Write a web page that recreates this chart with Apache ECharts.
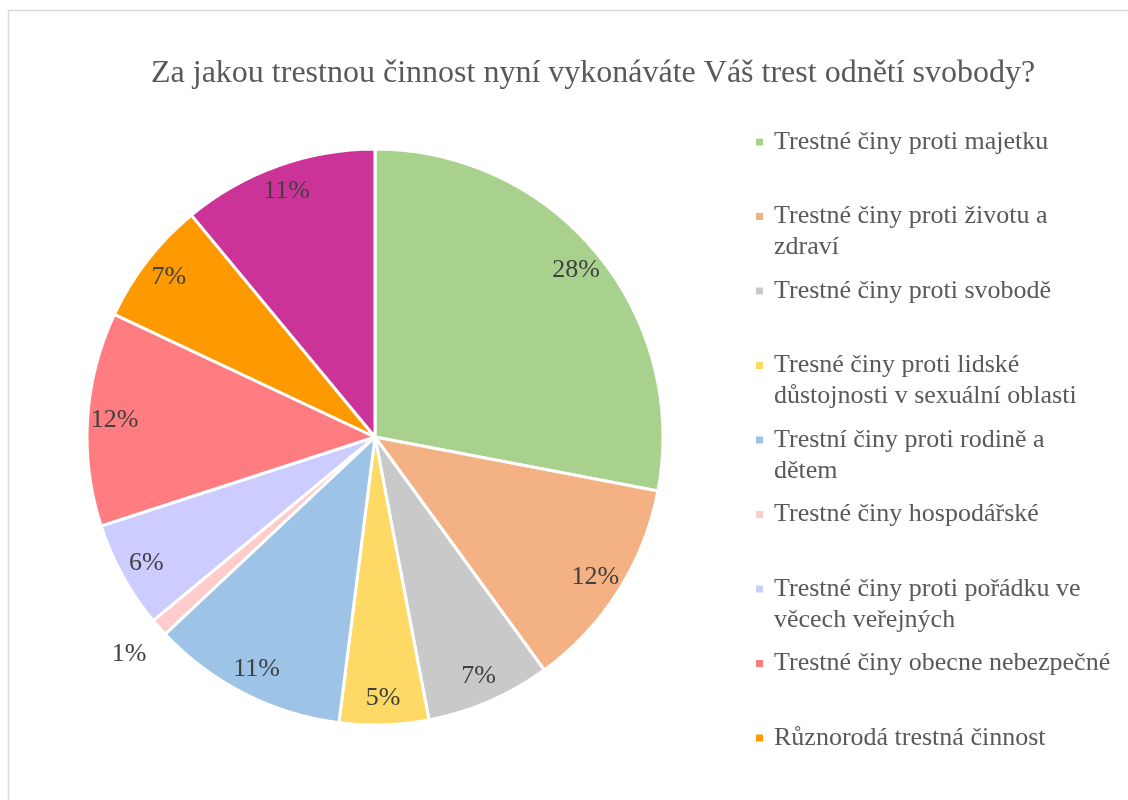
<!DOCTYPE html>
<html>
<head>
<meta charset="utf-8">
<script src="https://cdn.jsdelivr.net/npm/echarts@6/dist/echarts.min.js"></script>
<style>
  html, body { margin: 0; padding: 0; background: #fff; }
  #chart { width: 1128px; height: 800px; }
</style>
</head>
<body>
<div id="chart"></div>
<script>
// data
const titleText = 'Za jakou trestnou činnost nyní vykonáváte Váš trest odnětí svobody?'
const categories = [
  'Trestné činy proti majetku',
  'Trestné činy proti životu a zdraví',
  'Trestné činy proti svobodě',
  'Tresné činy proti lidské důstojnosti v sexuální oblasti',
  'Trestní činy proti rodině a dětem',
  'Trestné činy hospodářské',
  'Trestné činy proti pořádku ve věcech veřejných',
  'Trestné činy obecne nebezpečné',
  'Různorodá trestná činnost',
  'Ostatní'
]
const values = [28, 12, 7, 5, 11, 1, 6, 12, 7, 11]
const colors = ['#A9D18E', '#F4B183', '#C9C9C9', '#FFD966', '#9DC3E6',
  '#FFCCCC', '#CCCCFF', '#FF7C80', '#FF9900', '#CC3399']
// legend shows only the first 9 (last one is cut off in the original)
const legendNames = categories.slice(0, 9)
// how the long names wrap in the legend
const legendWrap = {
  'Trestné činy proti životu a zdraví': 'Trestné činy proti životu a\nzdraví',
  'Tresné činy proti lidské důstojnosti v sexuální oblasti': 'Tresné činy proti lidské\ndůstojnosti v sexuální oblasti',
  'Trestní činy proti rodině a dětem': 'Trestní činy proti rodině a\ndětem',
  'Trestné činy proti pořádku ve věcech veřejných': 'Trestné činy proti pořádku ve\nvěcech veřejných'
}
// slice whose label sits outside the pie
const outsideIdx = 5

const serif = '"Liberation Serif", "DejaVu Serif", serif'
const LH = 31
const center = [375, 437]

const chart = echarts.init(document.getElementById('chart'))

const pieData = categories.map((name, i) => ({ name, value: values[i] }))

const labelStyle = {
  position: 'inside',
  formatter: '{c}%',
  fontFamily: serif,
  fontSize: 26,
  color: '#404040'
}

const option = {
  color: colors,
  animation: false,
  title: {
    text: titleText,
    left: 146,
    top: 53,
    textStyle: { fontFamily: serif, fontWeight: 'normal', fontSize: 32, color: '#595959' }
  },
  legend: {
    orient: 'vertical',
    left: 754,
    top: 142 - LH * 1.5,
    padding: 0,
    itemGap: 74.5 - LH * 3,
    itemWidth: 9,
    itemHeight: 9,
    icon: 'rect',
    selectedMode: false,
    textStyle: { fontFamily: serif, fontSize: 26, color: '#595959', lineHeight: LH },
    // an empty first line keeps the marker level with the first text line
    formatter: name => legendWrap[name] ? '\n' + legendWrap[name] : name,
    data: legendNames.map(name => ({
      name,
      textStyle: { padding: legendWrap[name] ? [0, 0, 0, 5] : [LH, 0, LH, 5] }
    }))
  },
  graphic: [{
    type: 'rect',
    silent: true,
    shape: { x: 8.5, y: 10.5, width: 1400, height: 1000 },
    style: { fill: 'none', stroke: '#D9D9D9', lineWidth: 1.5 }
  }],
  series: [
    {
      type: 'pie',
      center,
      radius: [0, 288],
      startAngle: 90,
      clockwise: true,
      silent: true,
      label: { show: false },
      labelLine: { show: false },
      itemStyle: { borderColor: '#fff', borderWidth: 3 },
      data: pieData
    },
    {
      // label ring (inside labels)
      type: 'pie',
      center,
      radius: [228, 288],
      startAngle: 90,
      silent: true,
      itemStyle: { color: 'rgba(0,0,0,0)' },
      label: labelStyle,
      labelLine: { show: false },
      data: pieData.map((d, i) => i === outsideIdx ? { ...d, label: { show: false } } : d)
    },
    {
      // label ring for the tiny slice placed outside
      type: 'pie',
      center,
      radius: [298, 352],
      startAngle: 90,
      silent: true,
      itemStyle: { color: 'rgba(0,0,0,0)' },
      label: labelStyle,
      labelLine: { show: false },
      data: pieData.map((d, i) => i === outsideIdx ? d : { ...d, label: { show: false } })
    }
  ]
}

chart.setOption(option)
</script>
</body>
</html>
